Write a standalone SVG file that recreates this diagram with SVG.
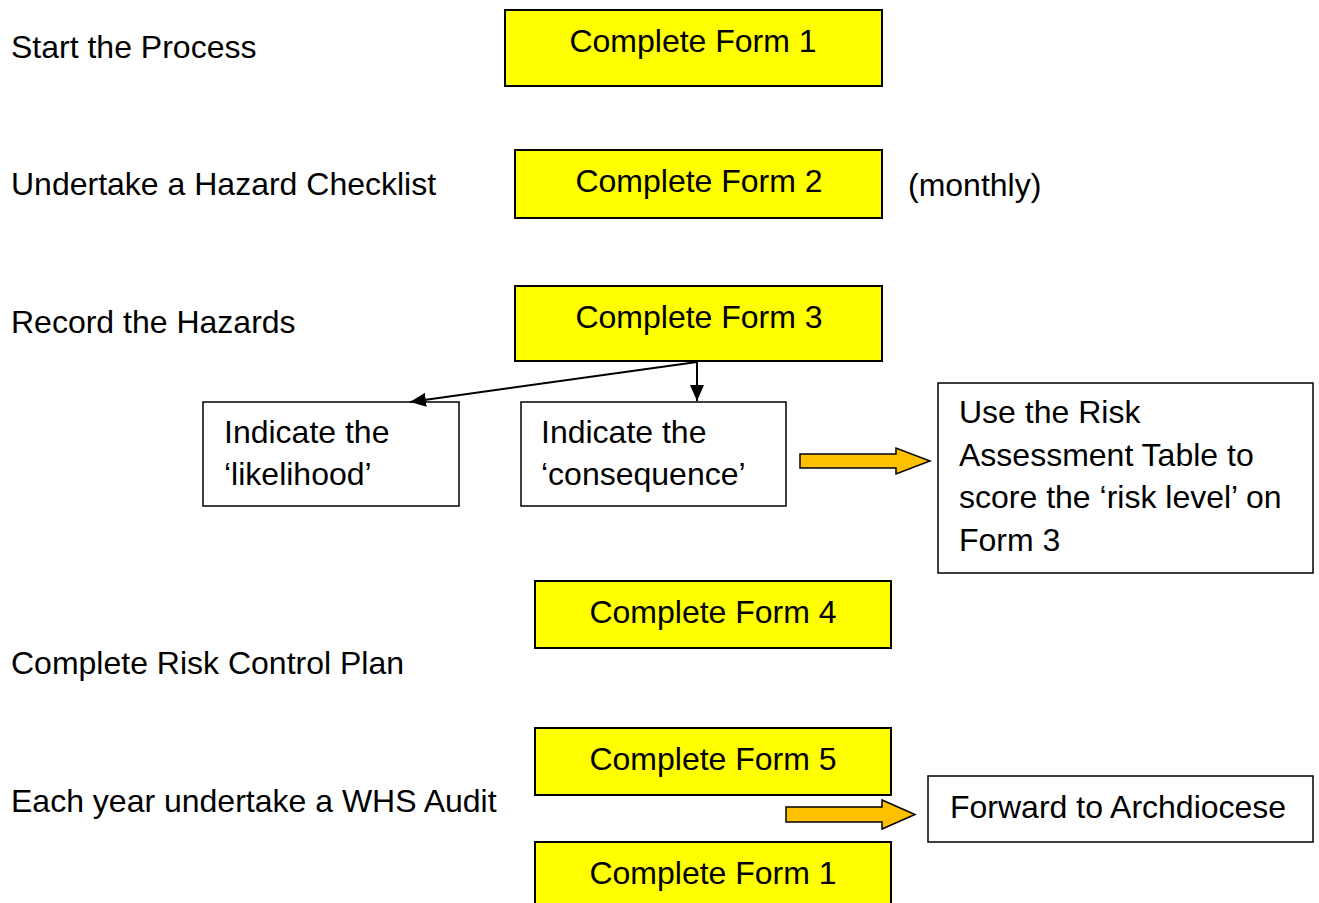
<svg xmlns="http://www.w3.org/2000/svg" width="1319" height="903" viewBox="0 0 1319 903">
<style>
text{font-family:"Liberation Sans",Arial,sans-serif;font-size:32px;fill:#000}
.y{fill:#ffff00;stroke:#000;stroke-width:2}
.w{fill:#fff;stroke:#000;stroke-width:1.5}
.c{text-anchor:middle}
.blk{fill:#ffc000;stroke:#000;stroke-width:1.5}
.ln{stroke:#000;stroke-width:2;fill:none}
</style>
<defs>
<marker id="ah" viewBox="0 0 16 14" refX="16" refY="7" markerWidth="16" markerHeight="14" markerUnits="userSpaceOnUse" orient="auto"><path d="M0,0 L16,7 L0,14 z" fill="#000"/></marker>
</defs>
<rect width="1319" height="903" fill="#fff"/>
<g id="labels">
<text x="11" y="58">Start the Process</text>
<text x="11" y="195">Undertake a Hazard Checklist</text>
<text x="908" y="196">(monthly)</text>
<text x="11" y="333">Record the Hazards</text>
<text x="11" y="674">Complete Risk Control Plan</text>
<text x="11" y="812">Each year undertake a WHS Audit</text>
</g>
<g id="form1a"><rect class="y" x="505" y="10" width="377" height="76"/><text class="c" x="693" y="52">Complete Form 1</text></g>
<g id="form2"><rect class="y" x="515" y="150" width="367" height="68"/><text class="c" x="699" y="192">Complete Form 2</text></g>
<g id="form3"><rect class="y" x="515" y="286" width="367" height="75"/><text class="c" x="699" y="328">Complete Form 3</text></g>
<g id="likelihood"><rect class="w" x="203" y="402" width="256" height="104"/><text x="224" y="443">Indicate the</text><text x="224" y="485">‘likelihood’</text></g>
<g id="consequence"><rect class="w" x="521" y="402" width="265" height="104"/><text x="541" y="443">Indicate the</text><text x="541" y="485">‘consequence’</text></g>
<g id="risktable"><rect class="w" x="938" y="383" width="375" height="190"/><text x="959" y="423">Use the Risk</text><text x="959" y="466">Assessment Table to</text><text x="959" y="508">score the ‘risk level’ on</text><text x="959" y="551">Form 3</text></g>
<g id="form4"><rect class="y" x="535" y="581" width="356" height="67"/><text class="c" x="713" y="623">Complete Form 4</text></g>
<g id="form5"><rect class="y" x="535" y="728" width="356" height="67"/><text class="c" x="713" y="770">Complete Form 5</text></g>
<g id="forward"><rect class="w" x="928" y="776" width="385" height="66"/><text x="950" y="818">Forward to Archdiocese</text></g>
<g id="form1b"><rect class="y" x="535" y="842" width="356" height="70"/><text class="c" x="713" y="884">Complete Form 1</text></g>
<g id="connectors">
<line class="ln" x1="697" y1="362" x2="410" y2="402" marker-end="url(#ah)"/>
<line class="ln" x1="697" y1="362" x2="697" y2="401" marker-end="url(#ah)"/>
<path class="blk" d="M800,454 L896,454 L896,448 L930,461 L896,474 L896,468 L800,468 z"/>
<path class="blk" d="M786,807 L882,807 L882,800 L915,814.5 L882,829 L882,822 L786,822 z"/>
</g>
</svg>
